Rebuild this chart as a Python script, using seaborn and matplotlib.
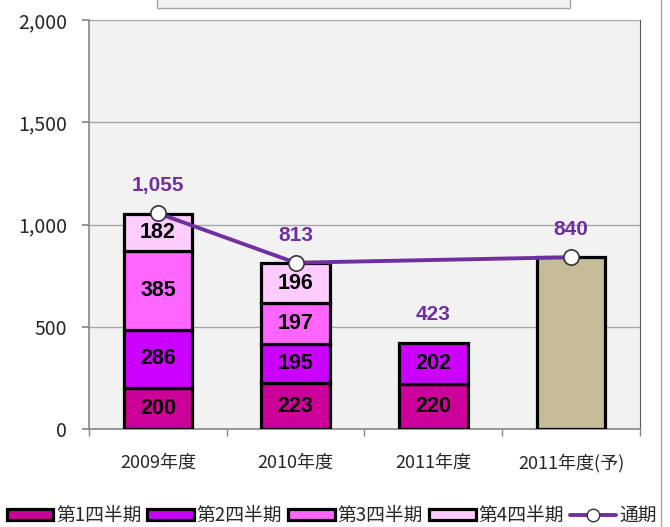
import matplotlib
matplotlib.use('Agg')
import matplotlib.pyplot as plt
import matplotlib.patches as mpatches
from matplotlib.lines import Line2D
from matplotlib.ticker import FuncFormatter, FixedLocator
import pandas as pd
import seaborn as sns
import numpy as np

years = ['2009年度', '2010年度', '2011年度', '2011年度(予)']
quarters = ['第1四半期', '第2四半期', '第3四半期', '第4四半期']
q1 = [200, 223, 220]
q2 = [286, 195, 202]
q3 = [385, 197]
q4 = [182, 196]
forecast = [840]
total_years = ['2009年度', '2010年度', '2011年度(予)']
totals = [1055, 813, 840]
label_totals = [1055, 813, 423, 840]

q_colors = ['#CC0099', '#CC00FF', '#FF66FF', '#FFCCFF']
fc_color = '#C4BD97'
line_color = '#7030A0'

sns.set_theme(style='white')
plt.rcParams['font.family'] = ['Noto Sans CJK JP', 'DejaVu Sans']
num_font = ['Liberation Sans', 'DejaVu Sans']

fig = plt.figure(figsize=(6.7, 5.27), dpi=100)
ax = fig.add_axes([0.133, 0.186, 0.822, 0.776])
ax.set_facecolor('#F2F2F2')

series = [q1, q2, q3, q4]
bottom = np.zeros(len(years))
for name, vals, col in zip(quarters, series, q_colors):
    n = len(vals)
    df = pd.DataFrame({'year': years[:n], 'value': vals})
    sns.barplot(data=df, x='year', y='value', order=years, color=col,
                width=0.5, errorbar=None, bottom=bottom[:n],
                edgecolor='black', linewidth=2.3, saturation=1, ax=ax, zorder=3)
    for i, v in enumerate(vals):
        ax.text(i, bottom[i] + v / 2, str(v), ha='center', va='center',
                fontsize=15.5, fontweight='bold', color='black', zorder=5,
                family=num_font)
    bottom[:n] += np.array(vals)

df_fc = pd.DataFrame({'year': ['2011年度(予)'], 'value': forecast})
sns.barplot(data=df_fc, x='year', y='value', order=years, color=fc_color,
            width=0.5, errorbar=None, edgecolor='black', linewidth=2.3,
            saturation=1, ax=ax, zorder=3)

pos = [years.index(y) for y in total_years]
ax.plot(pos, totals, color=line_color, linewidth=2.8, marker='o',
        markersize=11, markerfacecolor='white', markeredgecolor='#333333',
        markeredgewidth=1.2, zorder=6)

for i, t in enumerate(label_totals):
    ax.annotate(f'{t:,}', (i, t), xytext=(0, 13), textcoords='offset points',
                ha='center', va='bottom', fontsize=15, fontweight='bold',
                color=line_color, zorder=7, family=num_font)

ax.set_xlim(-0.5, 3.5)
ax.set_ylim(0, 2000)
ax.set_yticks([0, 500, 1000, 1500, 2000])
ax.yaxis.set_major_formatter(FuncFormatter(lambda v, p: f'{int(v):,}'))
ax.grid(axis='y', color='#A6A6A6', linewidth=1, zorder=0)
ax.set_axisbelow(True)
ax.set_xlabel('')
ax.set_ylabel('')
ax.tick_params(axis='y', labelsize=14, length=5, color='#888888', left=True,
               direction='out', pad=11)
ax.tick_params(axis='x', which='major', length=0, labelsize=13, pad=18)
ax.xaxis.set_minor_locator(FixedLocator([-0.5, 0.5, 1.5, 2.5, 3.5]))
ax.tick_params(axis='x', which='minor', length=5, color='#888888',
               bottom=True, direction='out')
for s in ['left', 'bottom']:
    ax.spines[s].set_color('#888888')
    ax.spines[s].set_linewidth(1.2)
for s in ['top', 'right']:
    ax.spines[s].set_color('#555555')
    ax.spines[s].set_linewidth(0.8)
ax.spines['top'].set_visible(False)

# cut-off title box and chart border
fig.patches.append(mpatches.Rectangle((157 / 670, 1 - 8 / 527), 413 / 670, 0.05,
                                      transform=fig.transFigure, facecolor='#F2F2F2',
                                      edgecolor='#A6A6A6', linewidth=1))
fig.lines.append(Line2D([661 / 670, 661 / 670], [0, 1], transform=fig.transFigure,
                        color='#A6A6A6', linewidth=1))

handles = [mpatches.Patch(facecolor=c, edgecolor='black', linewidth=2.3, label=q)
           for q, c in zip(quarters, q_colors)]
handles.append(Line2D([], [], color=line_color, linewidth=2.8, marker='o',
                      markersize=9, markerfacecolor='white',
                      markeredgecolor='#333333', label='通期'))
fig.legend(handles=handles, loc='center', bbox_to_anchor=(0.495, 0.022), ncol=5,
           frameon=False, fontsize=13.5, handlelength=2.5, handleheight=0.55,
           handletextpad=0.15, columnspacing=0.3)

fig.savefig('out.png', dpi=100)
